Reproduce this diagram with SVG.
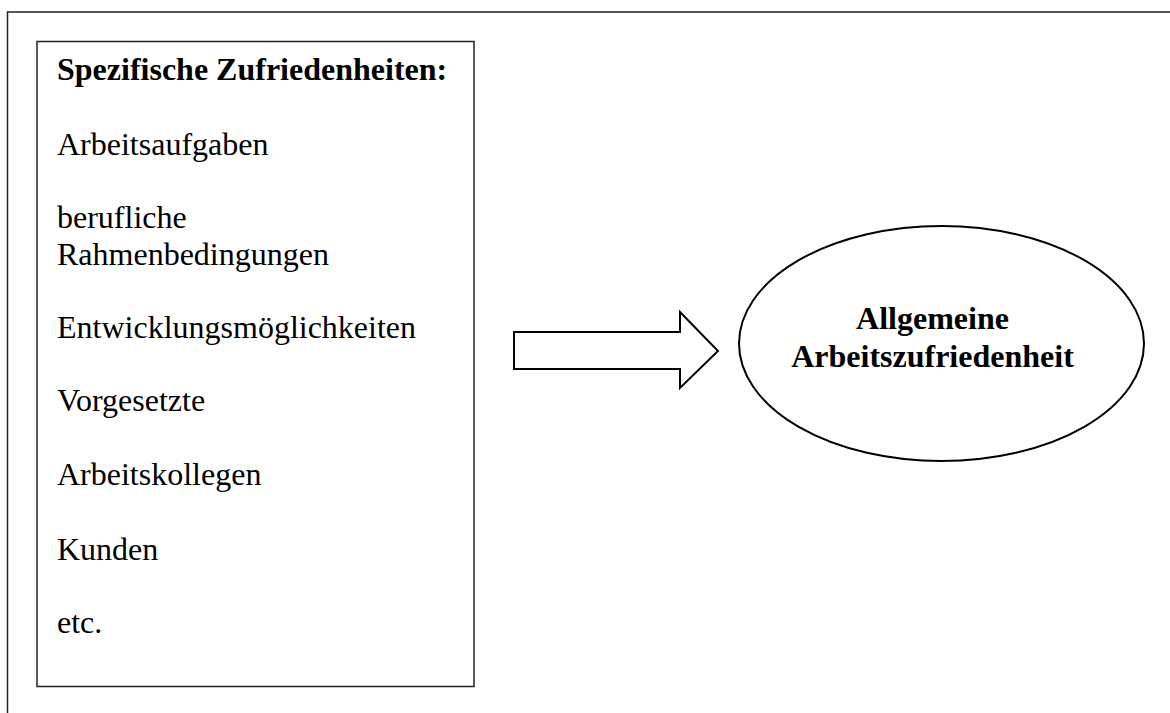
<svg xmlns="http://www.w3.org/2000/svg" width="1170" height="713" viewBox="0 0 1170 713">
<style>
.frame{fill:none;stroke:#222;stroke-width:1.5}
.box{fill:#fff;stroke:#222;stroke-width:1.5}
.shape{fill:#fff;stroke:#000;stroke-width:2}
.t{font-family:"Liberation Serif","Times New Roman",serif;font-size:32px;fill:#000}
.b{font-weight:bold}
</style>
<rect width="1170" height="713" fill="#fff"/>
<polyline class="frame" points="7.5,713 7.5,12 1170,12"/>
<g id="spezifische">
<rect class="box" x="37" y="41.5" width="437" height="645"/>
<text class="t b" x="57" y="80">Spezifische Zufriedenheiten:</text>
<text class="t" x="57" y="155">Arbeitsaufgaben</text>
<text class="t" x="57" y="228">berufliche</text>
<text class="t" x="57" y="265">Rahmenbedingungen</text>
<text class="t" x="57" y="338">Entwicklungsmöglichkeiten</text>
<text class="t" x="57" y="411">Vorgesetzte</text>
<text class="t" x="57" y="485">Arbeitskollegen</text>
<text class="t" x="57" y="560">Kunden</text>
<text class="t" x="57" y="633">etc.</text>
</g>
<g id="connectors">
<polygon class="shape" points="514,332 680,332 680,312 718,351 680,388 680,369 514,369"/>
</g>
<g id="allgemeine">
<ellipse class="shape" cx="941.5" cy="343.5" rx="202.5" ry="117.5"/>
<text class="t b" x="932.5" y="329" text-anchor="middle">Allgemeine</text>
<text class="t b" x="932.5" y="367" text-anchor="middle">Arbeitszufriedenheit</text>
</g>
</svg>
